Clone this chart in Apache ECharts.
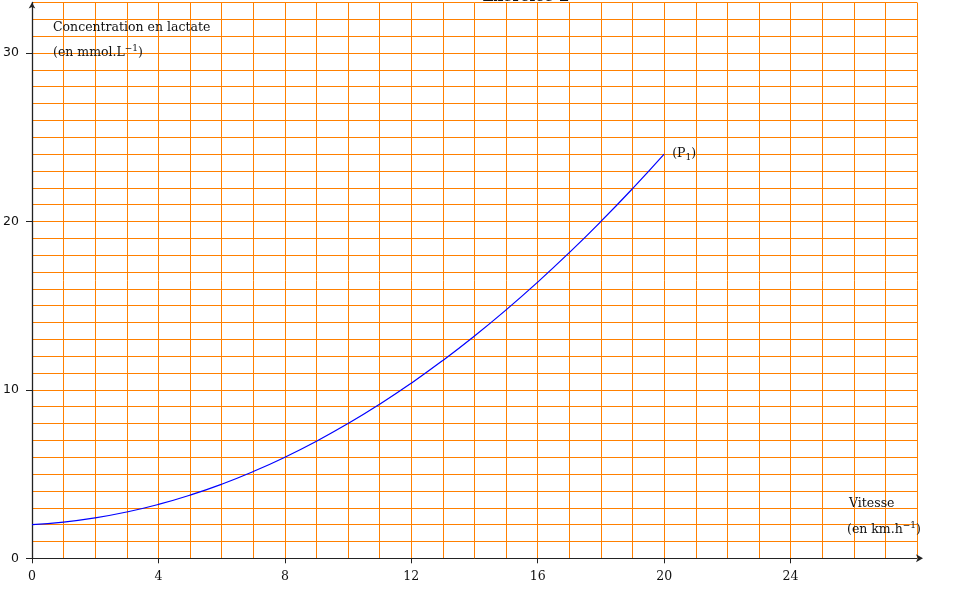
<!DOCTYPE html>
<html>
<head>
<meta charset="utf-8">
<script src="https://cdn.jsdelivr.net/npm/echarts@6/dist/echarts.min.js"></script>
<style>
html,body{margin:0;padding:0;background:#fff;}
#chart{width:961px;height:591px;}
</style>
</head>
<body>
<div id="chart"></div>
<script>
// Curve (P1): vitesse (km/h) vs concentration en lactate (mmol/L)
const speeds = [0,1,2,3,4,5,6,7,8,9,10,11,12,13,14,15,16,17,18,19,20];
const lactate = [2,2.15,2.4,2.75,3.2,3.75,4.4,5.15,6.0,6.95,8.0,9.15,10.4,11.75,13.2,14.75,16.4,18.15,20.0,21.95,24.0];
const xTicks = [0,4,8,12,16,20,24];
const yTicks = [0,10,20,30];
const curveName = 'P1';

const serif = '"DejaVu Serif", serif';
const orange = '#ff8000';

const chart = echarts.init(document.getElementById('chart'), null, {renderer:'canvas'});
const option = {
  animation:false,
  backgroundColor:'#fff',
  grid:{left:32, right:44, top:2.5, bottom:32.7, containLabel:false},
  xAxis:[{
    type:'value', min:0, max:28, interval:1,
    axisLine:{show:false}, axisTick:{show:false}, axisLabel:{show:false},
    splitLine:{show:true, lineStyle:{color:orange, width:1}}
  },{
    type:'value', min:0, max:28, position:'bottom',
    axisLine:{show:true, onZero:false, lineStyle:{color:'#222', width:1}, symbol:['none','arrow'], symbolSize:[6,7], symbolOffset:[0,6]},
    axisTick:{show:true, length:5, customValues:xTicks, lineStyle:{color:'#222'}},
    axisLabel:{show:true, customValues:xTicks, margin:12, color:'#111', fontFamily:serif, fontSize:12.5},
    splitLine:{show:false}
  }],
  yAxis:[{
    type:'value', min:0, max:33, interval:1,
    axisLine:{show:false}, axisTick:{show:false}, axisLabel:{show:false},
    splitLine:{show:true, lineStyle:{color:orange, width:1}}
  },{
    type:'value', min:0, max:33, position:'left',
    axisLine:{show:true, onZero:false, lineStyle:{color:'#222', width:1.3}, symbol:['none','arrow'], symbolSize:[5,6]},
    axisTick:{show:true, length:6, customValues:yTicks, lineStyle:{color:'#222'}},
    axisLabel:{show:true, customValues:yTicks, margin:13, color:'#111', fontFamily:'"DejaVu Sans", sans-serif', fontSize:12.5},
    splitLine:{show:false}
  }],
  series:[{
    name:curveName,
    type:'line',
    xAxisIndex:0, yAxisIndex:0,
    smooth:true,
    symbol:'none',
    data:speeds.map((s,i)=>[s,lactate[i]]),
    lineStyle:{color:'#0000ff', width:1.2},
    z:5,
    endLabel:{
      show:true,
      formatter:'{a|(P}{s|1}{a|)}',
      distance:8,
      rich:{
        a:{fontFamily:serif, fontSize:12.5, color:'#111', lineHeight:16},
        s:{fontFamily:serif, fontSize:9, color:'#111', lineHeight:9, verticalAlign:'bottom'}
      }
    }
  }],
  graphic:[
    {type:'text', left:53, top:21, z:10, style:{text:'Concentration en lactate', font:'12.5px '+serif, fill:'#111'}},
    {type:'text', left:53, top:44, z:10, style:{
      text:'{a|(en mmol.L}{s|−1}{a|)}',
      rich:{
        a:{fontFamily:serif, fontSize:12.5, fill:'#111', lineHeight:18},
        s:{fontFamily:serif, fontSize:9, fill:'#111', lineHeight:10, verticalAlign:'top'}
      }}},
    {type:'text', left:849, top:497, z:10, style:{text:'Vitesse', font:'12.5px '+serif, fill:'#111'}},
    {type:'text', left:847, top:521, z:10, style:{
      text:'{a|(en km.h}{s|−1}{a|)}',
      rich:{
        a:{fontFamily:serif, fontSize:12.5, fill:'#111', lineHeight:18},
        s:{fontFamily:serif, fontSize:9, fill:'#111', lineHeight:10, verticalAlign:'top'}
      }}},
    {type:'text', x:526, y:-3, z:10, style:{text:'Exercice 2', font:'bold 15px '+serif, fill:'#111', align:'center', verticalAlign:'middle'}}
  ]
};
chart.setOption(option);
</script>
</body>
</html>
